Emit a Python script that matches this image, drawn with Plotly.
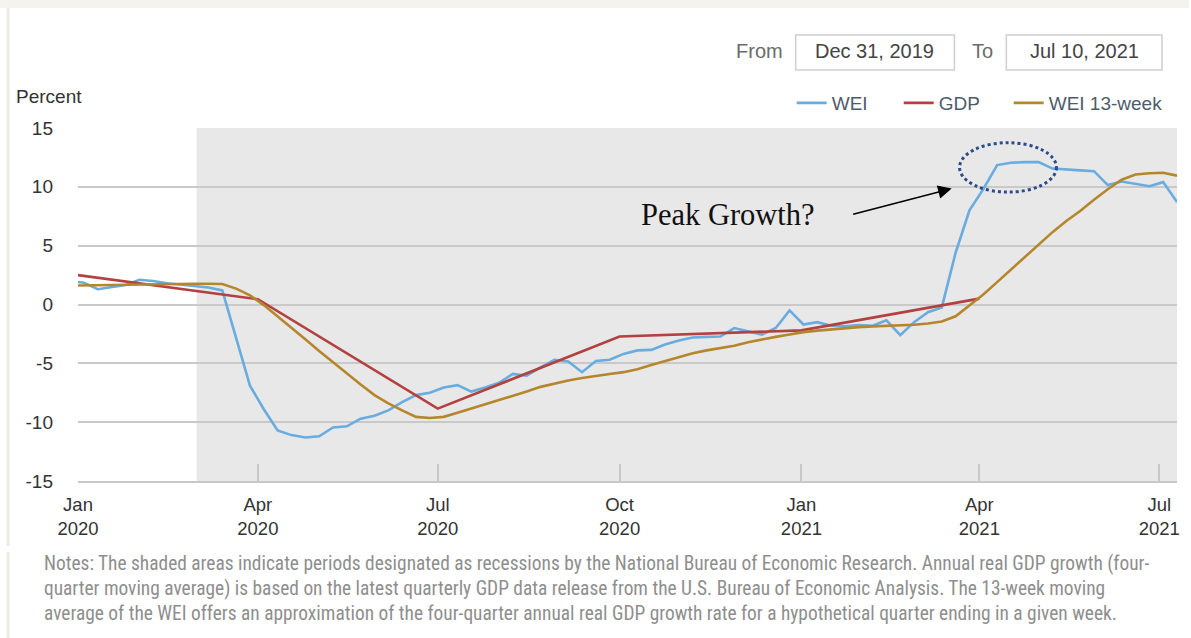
import pandas as pd
import plotly.graph_objects as go

# Weekly Economic Index, weeks ending Saturday
week_ending = pd.date_range("2019-12-28", "2021-07-10", freq="7D")

wei = [
    2.0,
    1.85, 1.3, 1.5, 1.65, 2.1, 2.0, 1.8, 1.7, 1.6, 1.45, 1.2, -2.8, -6.9,
    -8.9, -10.7, -11.1, -11.3, -11.2, -10.45, -10.35, -9.7, -9.45,
    -9.0, -8.3, -7.7, -7.5, -7.05, -6.85, -7.4, -7.05, -6.65, -5.9, -6.05,
    -5.35, -4.7, -4.85, -5.75, -4.8, -4.7, -4.2, -3.9, -3.86, -3.4, -3.05,
    -2.8, -2.75, -2.72, -2.0, -2.25, -2.55, -2.0, -0.5,
    -1.7, -1.5, -1.8, -1.85, -1.75, -1.8, -1.35, -2.6, -1.5, -0.65, -0.25,
    4.4, 8.0, 9.8, 11.85, 12.05, 12.1, 12.1, 11.55, 11.5, 11.4, 11.33,
    10.15, 10.45, 10.25, 10.05, 10.4, 8.7,
]

wei_13wk = [
    1.6,
    1.62, 1.65, 1.68, 1.71, 1.74, 1.76, 1.76, 1.76, 1.76, 1.76, 1.74, 1.35, 0.78,
    -0.05, -1.0, -2.0, -2.95, -3.95, -4.9, -5.9, -6.8, -7.7,
    -8.4, -9.0, -9.55, -9.65, -9.55, -9.2, -8.85, -8.5, -8.15, -7.8, -7.4,
    -7.0, -6.7, -6.45, -6.25, -6.05, -5.9, -5.75, -5.5, -5.15, -4.8, -4.45,
    -4.15, -3.9, -3.7, -3.5, -3.2, -2.95, -2.75, -2.55,
    -2.35, -2.22, -2.1, -2.0, -1.92, -1.86, -1.82, -1.78, -1.72, -1.62, -1.45,
    -1.0, -0.1, 0.85, 1.9, 2.95, 4.05, 5.1, 6.15, 7.1, 7.95, 8.9,
    9.8, 10.6, 11.05, 11.15, 11.2, 10.95,
]

# Four-quarter real GDP growth
gdp_dates = ["2020-01-01", "2020-04-01", "2020-07-01", "2020-10-01", "2021-01-01", "2021-04-01"]
gdp = [2.5, 0.45, -8.85, -2.72, -2.2, 0.5]

tick_dates = ["2020-01-01", "2020-04-01", "2020-07-01", "2020-10-01",
              "2021-01-01", "2021-04-01", "2021-07-01"]
tick_labels = ["Jan<br>2020", "Apr<br>2020", "Jul<br>2020", "Oct<br>2020",
               "Jan<br>2021", "Apr<br>2021", "Jul<br>2021"]
y_ticks = [-15, -10, -5, 0, 5, 10, 15]
y_tick_labels = ["-15", "-10", "-5", "0", "5", "10", "15"]

recession_start = "2020-03-01"
range_start, range_end = "2020-01-01", "2021-07-10"

W, H = 1191, 638
L, R, T, B = 78, 1179, 128, 481


def px(x):
    return (x - L) / (R - L)


def py(y):
    return (B - y) / (B - T)


BLUE, RED, GOLD = "#68acE0", "#b2413f", "#b5862c"
SANS = "Liberation Sans, Arial, sans-serif"

fig = go.Figure()
fig.add_trace(go.Scatter(x=week_ending, y=wei, name="WEI", mode="lines",
                         line=dict(color=BLUE, width=2.6), legendwidth=62))
fig.add_trace(go.Scatter(x=gdp_dates, y=gdp, name="GDP", mode="lines",
                         line=dict(color=RED, width=2.6), legendwidth=65))
fig.add_trace(go.Scatter(x=week_ending, y=wei_13wk, name="WEI 13-week", mode="lines",
                         line=dict(color=GOLD, width=2.6), legendwidth=125))

shapes = [
    # recession shading
    dict(type="rect", xref="x", yref="y", x0=recession_start, x1=range_end, y0=-15, y1=15,
         fillcolor="#e8e8e8", line=dict(width=0), layer="below"),
    # peak highlight
    dict(type="circle", xref="x", yref="y", x0="2021-03-22", x1="2021-05-10", y0=9.55, y1=13.75,
         line=dict(color="#2b4b8c", width=3, dash="dot"), layer="above"),
    # date range boxes
    dict(type="rect", xref="paper", yref="paper", x0=px(797), x1=px(956), y0=py(70), y1=py(35),
         line=dict(color="#cfcfcf", width=1.5), fillcolor="white"),
    dict(type="rect", xref="paper", yref="paper", x0=px(1008), x1=px(1164), y0=py(70), y1=py(35),
         line=dict(color="#cfcfcf", width=1.5), fillcolor="white"),
    # page frame
    dict(type="rect", xref="paper", yref="paper", x0=px(0), x1=px(W), y0=py(8), y1=py(0),
         line=dict(width=0), fillcolor="#f4f3ee"),
    dict(type="line", xref="paper", yref="paper", x0=px(8), x1=px(8), y0=py(546), y1=py(8),
         line=dict(color="#ebeae3", width=3)),
    dict(type="line", xref="paper", yref="paper", x0=px(8), x1=px(8), y0=py(638), y1=py(552),
         line=dict(color="#ebeae3", width=3)),
]

notes = ("Notes: The shaded areas indicate periods designated as recessions by the National Bureau of "
         "Economic Research. Annual real GDP growth (four-<br>quarter moving average) is based on the latest "
         "quarterly GDP data release from the U.S. Bureau of Economic Analysis. The 13-week moving<br>"
         "average of the WEI offers an approximation of the four-quarter annual real GDP growth rate for a "
         "hypothetical quarter ending in a given week.")

annotations = [
    dict(text="Percent", xref="paper", yref="paper", x=px(14), y=py(97), xanchor="left",
         yanchor="middle", showarrow=False, font=dict(family=SANS, size=19, color="#333333")),
    dict(text="From", xref="paper", yref="paper", x=px(761), y=py(51), xanchor="center",
         yanchor="middle", showarrow=False, font=dict(family=SANS, size=20, color="#6b6b6b")),
    dict(text="Dec 31, 2019", xref="paper", yref="paper", x=px(876), y=py(51), xanchor="center",
         yanchor="middle", showarrow=False, font=dict(family=SANS, size=20, color="#444444")),
    dict(text="To", xref="paper", yref="paper", x=px(984), y=py(51), xanchor="center",
         yanchor="middle", showarrow=False, font=dict(family=SANS, size=20, color="#6b6b6b")),
    dict(text="Jul 10, 2021", xref="paper", yref="paper", x=px(1086), y=py(51), xanchor="center",
         yanchor="middle", showarrow=False, font=dict(family=SANS, size=20, color="#444444")),
    dict(text="Peak Growth?", xref="x", yref="y", x="2020-11-25", y=7.6, xanchor="center",
         yanchor="middle", showarrow=False,
         font=dict(family="Liberation Serif, Times New Roman, serif", size=30.5, color="#111111")),
    dict(text="", xref="x", yref="y", x="2021-03-18", y=9.85, ax=-100, ay=26,
         axref="pixel", ayref="pixel", showarrow=True, arrowhead=2, arrowsize=1.7,
         arrowwidth=1.6, arrowcolor="#000000", standoff=0),
    dict(text=notes, xref="paper", yref="paper", x=px(42), y=py(550), xanchor="left",
         yanchor="top", align="left", showarrow=False,
         font=dict(family="Liberation Sans Narrow, Roboto Condensed, DejaVu Sans Condensed, sans-serif",
                   size=19.4, color="#8e8e8e")),
]

fig.update_layout(
    width=W, height=H,
    margin=dict(l=L, r=W - R, t=T, b=H - B, pad=0),
    paper_bgcolor="white", plot_bgcolor="white",
    font=dict(family=SANS, size=19, color="#333333"),
    showlegend=True,
    legend=dict(orientation="h", x=px(793), xanchor="left", y=py(103), yanchor="middle",
                font=dict(family=SANS, size=19, color="#4d5b6b"), bgcolor="rgba(0,0,0,0)",
                itemwidth=30, tracegroupgap=0),
    shapes=shapes,
    annotations=annotations,
    xaxis=dict(type="date", range=[range_start, range_end], tickmode="array",
               tickvals=tick_dates, ticktext=tick_labels, ticks="inside", ticklen=17,
               tickwidth=2, tickcolor="#c8c8c8", showgrid=False, showline=True,
               linecolor="#c8c8c8", linewidth=2, zeroline=False,
               tickfont=dict(family=SANS, size=18.5, color="#333333"), ticklabelstandoff=6),
    yaxis=dict(range=[-15, 15], tickmode="array", tickvals=y_ticks, ticktext=y_tick_labels,
               showgrid=True, gridcolor="#c9c9c9", gridwidth=2, zeroline=False, showline=False,
               ticks="", tickfont=dict(family=SANS, size=19, color="#333333"),
               ticklabelstandoff=24),
)

fig.write_html("out.html")
